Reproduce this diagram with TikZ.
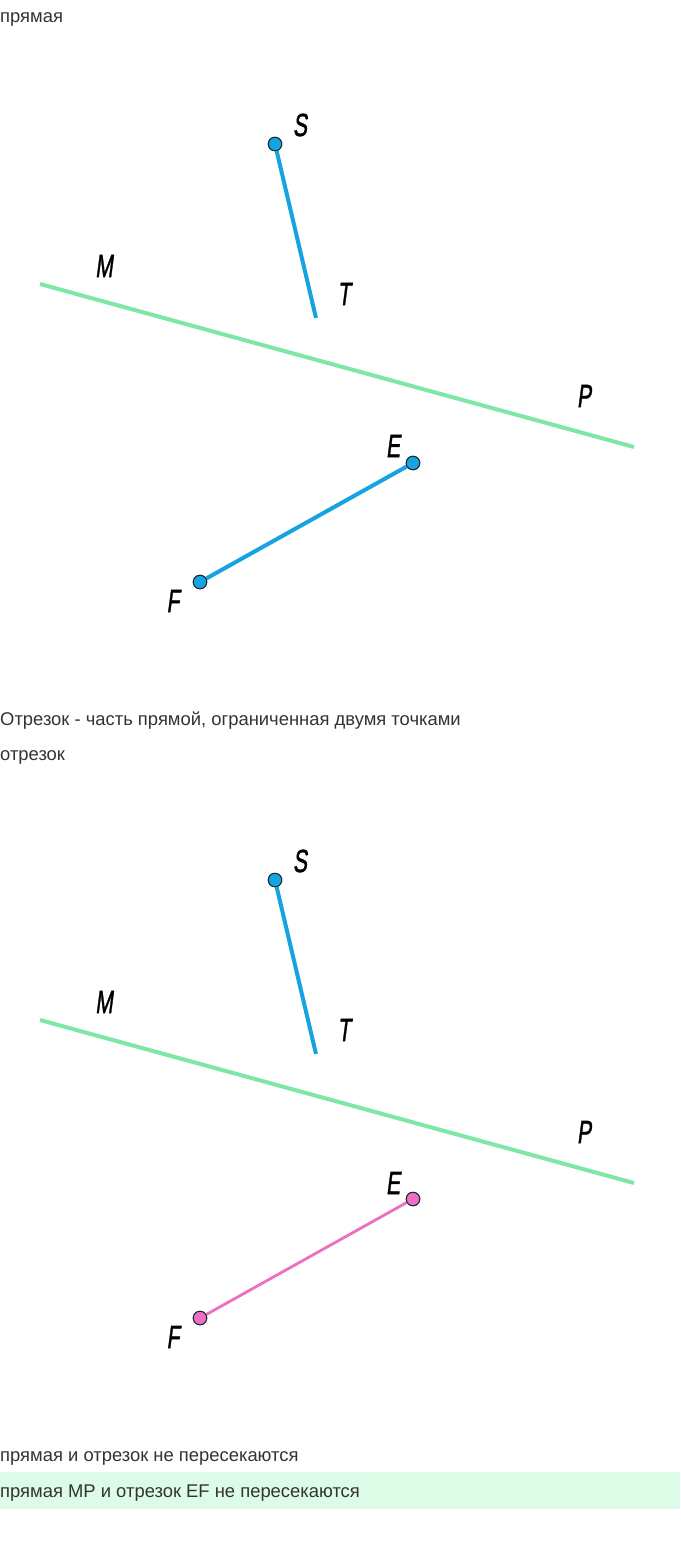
\documentclass[tikz,border=0pt]{standalone}
\usepackage{fontspec}
\setmainfont{Liberation Sans}
\newfontfamily\lblfont[FakeBold=1.6,FakeSlant=0.2]{Liberation Sans}
\definecolor{segblue}{HTML}{16A3E2}
\definecolor{linegreen}{HTML}{7EE6A6}
\definecolor{segpink}{HTML}{EE6EC2}
\definecolor{ptedge}{HTML}{1E2B36}
\definecolor{txtgray}{HTML}{333333}
\definecolor{bandgreen}{HTML}{DCFCE8}
\begin{document}
\begin{tikzpicture}[x=1pt,y=-1pt,
  txt/.style={anchor=base west,inner sep=0pt,text=txtgray,font=\fontsize{18.4}{20}\selectfont},
  lbl/.style={inner sep=0pt,font=\lblfont\fontsize{32}{34}\selectfont,xscale=0.66},
  ptblue/.style={circle,fill=segblue,draw=ptedge,line width=1pt,minimum size=13.5pt,inner sep=0pt},
  ptpink/.style={circle,fill=segpink,draw=ptedge,line width=1pt,minimum size=13.5pt,inner sep=0pt},
  bluesegment/.style={segblue,line width=4pt},
  pinksegment/.style={segpink,line width=2.8pt},
  greenline/.style={linegreen,line width=4pt}]
\useasboundingbox (0,0) rectangle (680,1544);
\fill[white] (0,0) rectangle (680,1544);
\fill[bandgreen] (0,1472) rectangle (680,1509);
% texts
\node[txt] (t1) at (0,23) {прямая};
\node[txt] (t2) at (0,725) {Отрезок - часть прямой, ограниченная двумя точками};
\node[txt] (t3) at (0,760) {отрезок};
\node[txt] (t4) at (0,1461) {прямая и отрезок не пересекаются};
\node[txt] (t5) at (0,1497) {прямая MP и отрезок EF не пересекаются};
% top figure
\coordinate (M1) at (40,284);
\coordinate (P1) at (634,447);
\coordinate (T1) at (316,318);
\draw[greenline] (M1) -- (P1);
\node[ptblue] (S1) at (275,144) {};
\node[ptblue] (E1) at (413,463) {};
\node[ptblue] (F1) at (200,582) {};
\draw[bluesegment] (S1) -- (T1);
\draw[bluesegment] (E1) -- (F1);
\node[ptblue] at (S1) {};
\node[ptblue] at (E1) {};
\node[ptblue] at (F1) {};
\node[lbl] (lS1) at (300,125) {S};
\node[lbl] (lT1) at (344,294) {T};
\node[lbl] (lM1) at (104,266) {M};
\node[lbl] (lP1) at (584,396) {P};
\node[lbl] (lE1) at (393,446) {E};
\node[lbl] (lF1) at (173,601) {F};
% bottom figure
\coordinate (M2) at (40,1020);
\coordinate (P2) at (634,1183);
\coordinate (T2) at (316,1054);
\draw[greenline] (M2) -- (P2);
\node[ptblue] (S2) at (275,880) {};
\node[ptpink] (E2) at (413,1199) {};
\node[ptpink] (F2) at (200,1318) {};
\draw[bluesegment] (S2) -- (T2);
\draw[pinksegment] (E2) -- (F2);
\node[ptblue] at (S2) {};
\node[ptpink] at (E2) {};
\node[ptpink] at (F2) {};
\node[lbl] (lS2) at (300,861) {S};
\node[lbl] (lT2) at (344,1030) {T};
\node[lbl] (lM2) at (104,1002) {M};
\node[lbl] (lP2) at (584,1132) {P};
\node[lbl] (lE2) at (393,1183) {E};
\node[lbl] (lF2) at (173,1337) {F};
\end{tikzpicture}
\end{document}
